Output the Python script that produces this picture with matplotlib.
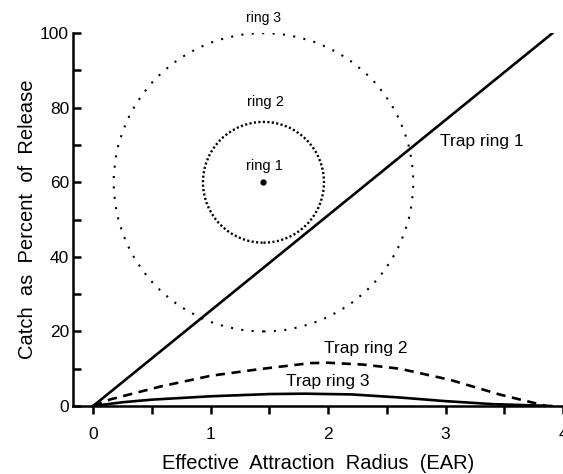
import numpy as np
import matplotlib
matplotlib.use("Agg")
import matplotlib.pyplot as plt
from matplotlib.patches import Ellipse

plt.rcParams['font.family'] = ['Liberation Sans', 'DejaVu Sans']

# trap ring 1 : straight line
ring1_x = [0.0, 3.91]
ring1_y = [0.0, 100.0]

# trap ring 2 : dashed curve
ring2_x = [0.0, 0.15, 0.57, 1.0, 1.42, 1.85, 2.0, 2.3, 2.61, 3.04, 3.47, 3.86]
ring2_y = [0.0, 1.8, 5.2, 8.1, 9.9, 11.5, 11.6, 11.1, 10.0, 7.0, 3.0, 0.0]

# trap ring 3 : solid low curve
ring3_x = [0.0, 0.25, 0.5, 1.0, 1.5, 1.8, 2.2, 2.6, 3.0, 3.4, 3.9]
ring3_y = [0.0, 1.0, 1.7, 2.6, 3.2, 3.3, 3.1, 2.3, 1.3, 0.5, 0.0]

# trap layout inset (center + radii in data units)
center = (1.45, 60.0)
ring2_w, ring2_h = 1.03, 32.4
ring3_w, ring3_h = 2.55, 80.0

fig = plt.figure(figsize=(5.63, 4.74), dpi=100)
ax = fig.add_axes([0.13, 0.1435, 0.87, 0.7865])

ax.plot(ring1_x, ring1_y, color='black', lw=1.9)
ax.plot(ring2_x, ring2_y, color='black', lw=1.9, linestyle=(0, (3.5, 2.5)))
ax.plot(ring3_x, ring3_y, color='black', lw=1.9)

ax.add_patch(Ellipse(center, ring3_w, ring3_h, fill=False, ec='black',
                     lw=1.5, linestyle=(0, (1.0, 4.0))))
ax.add_patch(Ellipse(center, ring2_w, ring2_h, fill=False, ec='black',
                     lw=1.7, linestyle=(0, (0.9, 1.0))))
ax.plot([center[0]], [center[1]], 'o', color='black', ms=3.5)

ax.text(1.45, 104, 'ring 3', ha='center', va='center', fontsize=10)
ax.text(1.47, 81.5, 'ring 2', ha='center', va='center', fontsize=10.5)
ax.text(1.46, 64.5, 'ring 1', ha='center', va='center', fontsize=10.5)

ax.text(2.95, 71, 'Trap ring 1', ha='left', va='center', fontsize=12.5)
ax.text(2.32, 15.5, 'Trap ring 2', ha='center', va='center', fontsize=12.5)
ax.text(2.0, 6.5, 'Trap ring 3', ha='center', va='center', fontsize=12.5)

ax.set_xlim(-0.17, 4.0)
ax.set_ylim(0, 100)
ax.spines['top'].set_visible(False)
ax.spines['right'].set_visible(False)
ax.spines['left'].set_linewidth(1.8)
ax.spines['bottom'].set_linewidth(1.8)

ax.set_xticks([0, 1, 2, 3, 4])
ax.set_xticks([0.5, 1.5, 2.5, 3.5], minor=True)
ax.set_yticks([0, 20, 40, 60, 80, 100])
ax.set_yticks([10, 30, 50, 70, 90], minor=True)
ax.tick_params(axis='x', which='both', direction='out', length=6, width=1.8, labelsize=12.5, pad=9)
ax.tick_params(axis='y', which='both', direction='in', length=6, width=1.8, labelsize=12.5, pad=3)

ax.set_xlabel('Effective  Attraction  Radius  (EAR)', fontsize=14.5, labelpad=9)
ax.set_ylabel('Catch  as  Percent  of  Release', fontsize=14.5, labelpad=2)

for t in ax.texts:
    t.set_clip_on(False)

fig.savefig('out.png', dpi=100)
